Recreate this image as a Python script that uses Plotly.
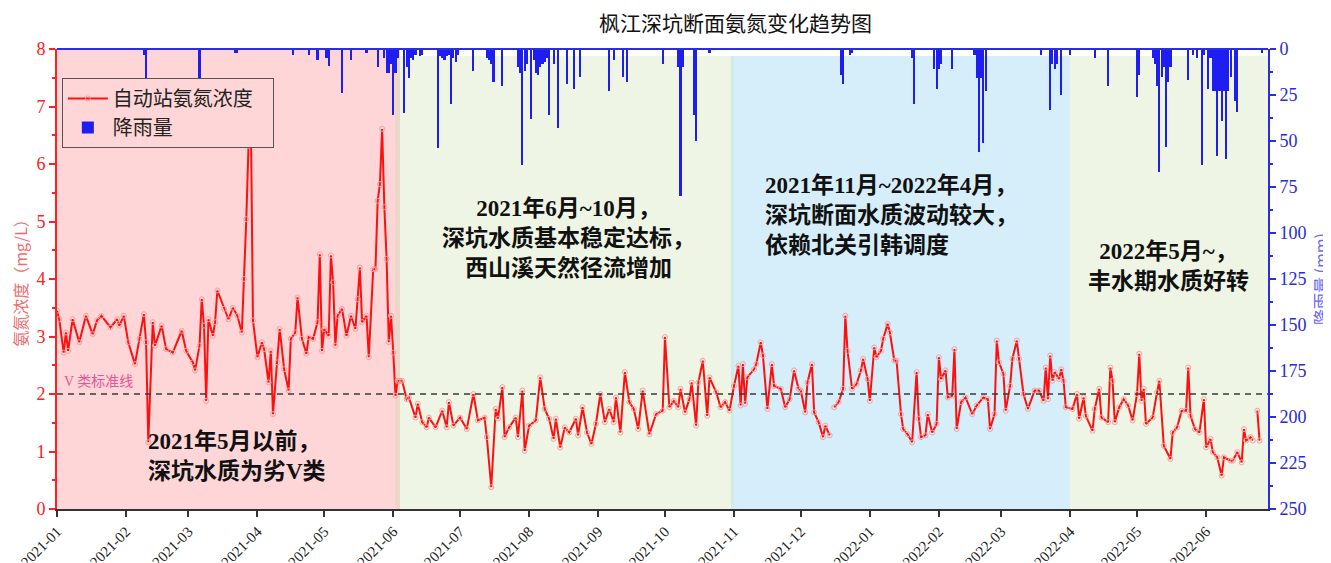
import pandas as pd
import plotly.graph_objects as go

START = pd.Timestamp("2021-01-01")
X_END = START + pd.Timedelta(days=543.8)

# --- ammonia nitrogen (mg/L), day offset from 2021-01-01 ---
nh3_day = [0, 1, 3, 4, 5, 7, 10, 13, 16, 18, 20, 24, 27, 28, 30, 32, 35, 37, 39, 40,
           41, 43, 44, 47, 49, 52, 56, 58, 61, 62, 64, 65, 66, 67, 68, 70, 71, 72, 75, 77,
           79, 81, 83, 84, 85, 86, 87, 88, 90, 92, 93, 95, 96, 97, 99, 100, 102, 104, 105, 107,
           108, 110, 112, 113, 115, 117, 118, 119, 120, 122, 123, 124, 125, 126, 128, 130, 132, 134, 135, 136,
           137, 139, 140, 142, 143, 144, 145, 146, 147, 148, 149, 150, 151, 152, 153, 154, 155, 157, 158, 161,
           162, 164, 166, 167, 170, 173, 175, 176, 178, 181, 184, 187, 189, 192, 193, 195, 197, 198, 200, 201,
           203, 206, 207, 209, 210, 212, 215, 217, 219, 221, 223, 224, 226, 228, 230, 233, 234, 236, 238, 240,
           242, 244, 246, 248, 250, 251, 253, 255, 257, 259, 261, 263, 266, 269, 272, 273, 275, 277, 279, 280,
           282, 284, 285, 287, 288, 290, 292, 293, 296, 298, 300, 302, 304, 306, 307, 308, 309, 310, 313, 314,
           316, 317, 319, 321, 322, 325, 327, 329, 331, 333, 334, 336, 337, 339, 340, 342, 344, 345, 347, 348,
           349, 351, 353, 354, 355, 357, 359, 361, 362, 364, 365, 367, 368, 370, 371, 373, 374, 376, 377, 379,
           380, 382, 384, 386, 387, 388, 390, 391, 393, 395, 396, 397, 399, 400, 402, 403, 404, 406, 408, 411,
           413, 416, 418, 419, 421, 422, 423, 425, 426, 428, 429, 431, 432, 434, 436, 439, 441, 443, 444, 445,
           446, 447, 448, 450, 451, 452, 453, 456, 458, 459, 461, 462, 465, 466, 468, 469, 472, 473, 474, 475,
           477, 479, 481, 483, 485, 486, 487, 488, 489, 492, 494, 495, 497, 500, 501, 503, 505, 507, 508, 509,
           511, 513, 515, 516, 518, 519, 521, 523, 524, 527, 528, 530, 532, 533, 534, 536, 537, 538, 539, 540]
nh3_val = [3.45, 3.3, 2.72, 3.07, 2.75, 3.3, 2.9, 3.36, 3.04, 3.28, 3.36, 3.16, 3.3, 3.19, 3.36, 2.9, 2.52, 2.96, 3.39, 2.9,
           1.16, 3.25, 2.84, 3.19, 2.78, 2.72, 3.1, 2.75, 2.55, 2.41, 2.84, 3.65, 3.19, 1.88, 3.3, 3.01, 3.25, 3.8, 3.48, 3.3,
           3.5, 3.36, 3.07, 4.0, 5.04, 6.32, 7.0, 3.28, 2.64, 2.9, 2.78, 2.2, 2.75, 1.65, 2.55, 3.13, 2.43, 2.06, 2.96, 3.07,
           3.68, 2.96, 2.7, 2.99, 2.96, 3.25, 4.43, 2.75, 3.13, 3.01, 4.41, 3.94, 2.84, 3.36, 3.48, 3.01, 3.36, 3.13, 3.65, 4.2,
           3.25, 3.36, 2.64, 4.17, 4.17, 5.36, 5.65, 6.61, 5.25, 4.35, 2.9, 3.36, 2.72, 1.97, 2.23, 2.23, 2.23, 1.91, 1.94, 1.59,
           1.83, 1.51, 1.42, 1.59, 1.42, 1.71, 1.42, 1.86, 1.45, 1.59, 1.39, 2.0, 1.54, 1.59, 1.25, 0.38, 1.74, 1.57, 2.12, 1.25,
           1.42, 1.59, 1.25, 2.06, 1.01, 1.45, 1.54, 2.29, 1.74, 1.57, 1.22, 1.57, 1.07, 1.42, 1.33, 1.57, 1.28, 1.77, 1.33, 1.13,
           1.48, 2.0, 1.51, 1.74, 1.51, 1.94, 1.33, 2.38, 1.86, 1.74, 1.39, 2.06, 1.3, 1.65, 1.71, 2.99, 1.77, 1.88, 1.77, 2.09,
           1.68, 1.91, 2.2, 1.45, 2.2, 2.58, 1.62, 2.29, 2.03, 1.77, 1.86, 1.71, 2.14, 2.49, 1.8, 2.52, 1.83, 2.29, 2.43, 2.52,
           2.9, 2.67, 1.74, 2.52, 2.14, 2.09, 1.77, 1.91, 2.41, 2.09, 2.06, 1.68, 2.2, 2.52, 1.68, 1.51, 1.25, 1.45, 1.28, None,
           1.77, 1.86, 2.09, 3.36, 2.75, 2.09, 2.17, 2.41, 2.61, 2.26, 1.88, 2.81, 2.64, 2.75, 2.96, 3.22, 3.07, 2.58, 2.58, 1.65,
           1.39, 1.3, 1.16, 2.38, 1.57, 1.25, 1.28, 1.65, 1.33, 1.48, 2.64, 2.26, 2.41, 1.94, 1.97, 2.78, 1.39, 1.86, 1.94, 1.65,
           1.8, 1.94, 1.91, 1.39, 1.65, 2.93, 2.55, 2.35, 1.71, 2.14, 2.61, 2.93, 2.61, 2.0, 1.74, 2.06, 2.06, 1.88, 2.46, 1.91,
           2.67, 2.23, 2.38, 2.26, 2.43, 2.23, 1.77, 1.74, 2.0, 1.57, 1.94, 1.62, 1.36, 1.74, 2.09, 1.59, 1.51, 2.46, 2.23, 1.51,
           1.77, 1.91, 1.8, 1.54, 2.0, 2.7, 1.88, 2.09, 1.48, 1.59, 2.03, 2.23, 1.1, 0.87, 1.33, 1.42, 1.71, 1.71, 2.46, 1.62,
           1.39, 1.33, 1.91, 1.07, 1.22, 0.99, 0.9, 0.58, 0.9, 0.84, 0.84, 0.99, 0.81, 1.39, 1.19, 1.25, 1.19, None, 1.71, 1.19]

# --- daily rainfall (mm), day offset from 2021-01-01 ---
rain_day = [39, 40, 64, 80, 81, 106, 113, 117, 121, 122, 128, 132, 139, 144, 147, 148, 149, 150, 151, 152,
            153, 156, 157, 158, 159, 160, 161, 163, 164, 171, 172, 173, 174, 175, 176, 177, 178, 179, 180, 187,
            193, 194, 195, 196, 200, 207, 208, 209, 210, 211, 213, 214, 215, 216, 217, 218, 219, 220, 221, 223,
            225, 229, 232, 235, 248, 250, 254, 256, 272, 279, 280, 281, 286, 287, 293, 352, 353, 356, 357, 384,
            385, 394, 395, 396, 397, 402, 412, 413, 414, 415, 416, 417, 442, 446, 447, 448, 449, 451, 455, 466,
            472, 485, 486, 492, 493, 494, 495, 496, 497, 498, 499, 500, 508, 510, 512, 514, 515, 517, 518, 519,
            520, 521, 522, 523, 524, 525, 526, 527, 529, 530, 541]
rain_mm = [3, 16, 16, 2, 2, 3, 3, 6, 5, 9, 24, 6, 2, 10, 5, 13, 13, 8, 36, 13,
           5, 35, 10, 16, 5, 6, 3, 4, 3, 54, 4, 5, 6, 4, 3, 30, 5, 7, 3, 12,
           5, 6, 8, 18, 20, 10, 13, 63, 12, 8, 38, 6, 13, 14, 10, 8, 7, 5, 36, 8,
           43, 19, 22, 15, 23, 6, 15, 18, 8, 10, 80, 10, 36, 50, 2, 14, 19, 3, 2, 5,
           30, 11, 22, 11, 8, 11, 3, 16, 56, 16, 51, 23, 3, 33, 8, 11, 8, 25, 3, 5,
           20, 26, 14, 5, 8, 20, 67, 15, 10, 53, 18, 10, 17, 3, 5, 63, 3, 22, 5, 23,
           23, 58, 23, 39, 23, 60, 23, 15, 28, 34, 2]

# --- period boundaries (day offsets) ---
period_start = [0, 154, 302.6, 454.9]
period_end = [154, 302.6, 454.9, 543.8]
period_fill = ["#FFD6D7", "#EEF5E4", "#D6EEF9", "#EEF5E4"]
period_top = [8, 7.88, 7.88, 7.88]

notes = ["<b>2021年5月以前，<br>深坑水质为劣V类</b>",
         "<b>2021年6月~10月，<br>深坑水质基本稳定达标，<br>西山溪天然径流增加</b>",
         "<b>2021年11月~2022年4月，<br>深坑断面水质波动较大，<br>依赖北关引韩调度</b>",
         "<b>2022年5月~，<br>丰水期水质好转</b>"]

SERIF = "Liberation Serif, Noto Sans CJK SC"
CJK = "Noto Sans CJK SC"
PAD = "\u00a0" * 3

def d(days):
    return START + pd.to_timedelta(days, unit="D")

nh3_x = [d(v) for v in nh3_day]
rain_x = [d(v) for v in rain_day]

fig = go.Figure()

fig.add_trace(go.Scatter(
    x=nh3_x, y=nh3_val, mode="lines+markers", name="自动站氨氮浓度" + PAD,
    line=dict(color="#FF1010", width=2),
    marker=dict(symbol="circle-open", size=5, color="#F5A0A0", line=dict(width=1)),
    connectgaps=False, yaxis="y"))

fig.add_trace(go.Bar(
    x=rain_x, y=rain_mm, name="降雨量", yaxis="y2",
    marker=dict(color="#1E1EF0", line=dict(width=0)),
    width=86400000 * 0.95))

shapes = []
for s, e, c, top in zip(period_start, period_end, period_fill, period_top):
    shapes.append(dict(type="rect", xref="x", yref="y", x0=d(s), x1=d(e), y0=0, y1=top,
                       fillcolor=c, line=dict(width=0), layer="below"))
# transition strips
shapes.append(dict(type="rect", xref="x", yref="y", x0=d(151.8), x1=d(154), y0=0, y1=8,
                   fillcolor="#EAD9C9", line=dict(width=0), layer="below"))
shapes.append(dict(type="rect", xref="x", yref="y", x0=d(302.6), x1=d(304), y0=0, y1=7.88,
                   fillcolor="#D2EBE6", line=dict(width=0), layer="below"))
# V class standard line
shapes.append(dict(type="line", xref="paper", yref="y", x0=0, x1=1, y0=2, y1=2,
                   line=dict(color="#3A3A3A", width=1.3, dash="6px,5px")))
# top border
shapes.append(dict(type="line", xref="paper", yref="paper", x0=0, x1=1, y0=1, y1=1,
                   line=dict(color="#2A2AF0", width=2)))

annotations = [
    dict(text="枫江深坑断面氨氮变化趋势图", xref="paper", yref="paper", x=(735 - 57) / 1211, y=1.058,
         showarrow=False, font=dict(family=CJK, size=21, color="#111"), xanchor="center", yanchor="middle"),
    dict(text="V 类标准线", xref="paper", yref="y", x=0.004, y=2.05, xanchor="left", yanchor="bottom",
         showarrow=False, font=dict(family=SERIF, size=14, color="#E8559A")),
    dict(text=notes[0], xref="x", yref="y", x=d(40), y=0.92, xanchor="left", yanchor="middle", align="left",
         showarrow=False, font=dict(family=SERIF, size=23, color="#111")),
    dict(text=notes[1], xref="x", yref="y", x=d(229.5), y=4.71, xanchor="center", yanchor="middle", align="center",
         showarrow=False, font=dict(family=SERIF, size=23, color="#111")),
    dict(text=notes[2], xref="x", yref="y", x=d(317), y=5.11, xanchor="left", yanchor="middle", align="left",
         showarrow=False, font=dict(family=SERIF, size=23, color="#111")),
    dict(text=notes[3], xref="x", yref="y", x=d(499), y=4.21, xanchor="center", yanchor="middle", align="center",
         showarrow=False, font=dict(family=SERIF, size=23, color="#111")),
]

fig.update_layout(
    width=1331, height=563,
    margin=dict(l=49, r=71, t=41, b=62),
    paper_bgcolor="white", plot_bgcolor="white",
    showlegend=True,
    legend=dict(x=0.004, y=0.937, xanchor="left", yanchor="top",
                bgcolor="#FFD6D7", bordercolor="#555", borderwidth=1,
                font=dict(family=SERIF, size=20, color="#222"), traceorder="normal",
                itemwidth=40, tracegroupgap=0),
    bargap=0,
    shapes=shapes,
    annotations=annotations,
    xaxis=dict(type="date", range=[START, X_END], tickformat="%Y-%m", dtick="M1",
               tick0="2021-01-01", tickangle=-45, showgrid=False, automargin=False,
               showline=True, linecolor="#333", linewidth=2,
               ticks="outside", ticklen=6, tickwidth=2, tickcolor="#333",
               tickfont=dict(family=SERIF, size=15, color="#222"), zeroline=False),
    yaxis=dict(range=[0, 8], dtick=1, showgrid=False, zeroline=False, automargin=False,
               showline=True, linecolor="#FF2020", linewidth=2,
               ticks="outside", ticklen=6, tickwidth=2, tickcolor="#FF2020",
               minor=dict(dtick=0.5, ticks="outside", ticklen=3, tickcolor="#FF2020", tickwidth=1.5),
               tickfont=dict(family=SERIF, size=18, color="#FF2020"),
               title=dict(text="氨氮浓度（mg/L）", standoff=6,
                          font=dict(family=CJK, size=16, color="#F06C6C"))),
    yaxis2=dict(range=[250, 0], dtick=25, overlaying="y", side="right", showgrid=False,
                zeroline=False, automargin=False,
                showline=True, linecolor="#2A2AF0", linewidth=2,
                ticks="outside", ticklen=6, tickwidth=2, tickcolor="#2A2AF0",
                minor=dict(dtick=12.5, ticks="outside", ticklen=3, tickcolor="#2A2AF0", tickwidth=1.5),
                tickfont=dict(family=SERIF, size=18, color="#2A2AD8"),
                title=dict(text="降雨量 (mm)", standoff=10,
                           font=dict(family=CJK, size=16, color="#6A6AF5"))),
)

fig.write_html("out.html")
